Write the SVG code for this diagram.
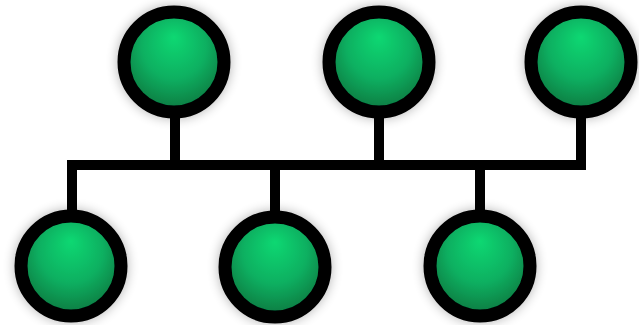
<svg xmlns="http://www.w3.org/2000/svg" width="639" height="325" viewBox="0 0 639 325">
<defs>
<radialGradient id="g" cx="0.5" cy="0.42" r="0.58" fx="0.5" fy="0.25">
<stop offset="0" stop-color="#10d872"/>
<stop offset="0.55" stop-color="#0bb061"/>
<stop offset="1" stop-color="#07773f"/>
</radialGradient>
<filter id="sh" x="-30%" y="-30%" width="160%" height="160%">
<feGaussianBlur in="SourceAlpha" stdDeviation="6"/>
<feComponentTransfer><feFuncA type="linear" slope="0.3"/></feComponentTransfer>
<feMerge><feMergeNode/><feMergeNode in="SourceGraphic"/></feMerge>
</filter>
</defs>
<style>
.n{fill:url(#g);stroke:#000;stroke-width:13;filter:url(#sh)}
.l{fill:none;stroke:#000;stroke-width:10;stroke-linecap:square;stroke-linejoin:miter}
</style>
<rect width="639" height="325" fill="#fff"/>
<g id="connectors">
<path class="l" d="M72,215 V165 H581 V110"/>
<path class="l" d="M175,110 V165"/>
<path class="l" d="M379,110 V165"/>
<path class="l" d="M275,165 V215"/>
<path class="l" d="M480,165 V215"/>
</g>
<g id="n1"><circle class="n" cx="174" cy="62" r="50"/></g>
<g id="n2"><circle class="n" cx="379" cy="62" r="50"/></g>
<g id="n3"><circle class="n" cx="581" cy="62" r="50"/></g>
<g id="n4"><circle class="n" cx="71" cy="266" r="50"/></g>
<g id="n5"><circle class="n" cx="275" cy="267" r="50"/></g>
<g id="n6"><circle class="n" cx="480" cy="266" r="50"/></g>
</svg>
